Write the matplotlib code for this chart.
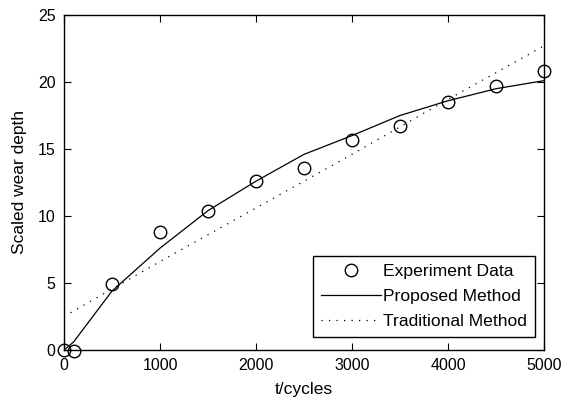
import matplotlib
matplotlib.use("Agg")
import matplotlib.pyplot as plt

# experiment data
t_exp = [0, 100, 500, 1000, 1500, 2000, 2500, 3000, 3500, 4000, 4500, 5000]
wear_exp = [0.0, -0.1, 4.9, 8.8, 10.4, 12.6, 13.6, 15.7, 16.7, 18.5, 19.7, 20.8]

# proposed method curve
t_prop = [0, 100, 500, 1000, 1500, 2000, 2500, 3000, 3500, 4000, 4500, 5000]
wear_prop = [0.0, 0.6, 4.4, 7.6, 10.4, 12.6, 14.6, 16.0, 17.5, 18.6, 19.5, 20.1]

# traditional method curve
t_trad = [0, 1000, 2000, 3000, 4000, 5000]
wear_trad = [2.5, 6.6, 10.6, 14.6, 18.7, 22.7]

xticks = [0, 1000, 2000, 3000, 4000, 5000]
yticks = [0, 5, 10, 15, 20, 25]

plt.rcParams['font.family'] = ['Liberation Sans', 'DejaVu Sans']

fig = plt.figure(figsize=(5.61, 4.0), dpi=100)
ax = fig.add_axes([64/561, 50/400, 480/561, 335/400])

ax.plot(t_exp, wear_exp, 'o', mfc='none', mec='black', ms=9, mew=1.0,
        label='Experiment Data', clip_on=False, zorder=3)
ax.plot(t_prop, wear_prop, '-', color='black', lw=0.9, label='Proposed Method')
ax.plot(t_trad, wear_trad, color='black', lw=0.9, linestyle=(0, (1, 5)),
        label='Traditional Method')

ax.set_xlim(0, 5000)
ax.set_ylim(0, 25)
ax.set_xticks(xticks)
ax.set_yticks(yticks)
ax.tick_params(direction='in', length=5, width=0.8, top=True, right=True,
               labelsize=11.5, pad=6)
for s in ax.spines.values():
    s.set_linewidth(1.0)

ax.set_xlabel('t/cycles', fontsize=12.5, labelpad=6)
ax.set_ylabel('Scaled wear depth', fontsize=12.5, labelpad=8)

leg = ax.legend(loc='lower right', bbox_to_anchor=(0.981, 0.039),
                fontsize=12.6, frameon=True, fancybox=False, edgecolor='black',
                framealpha=1, handlelength=3.4, handletextpad=0.15,
                labelspacing=0.55, borderpad=0.45, borderaxespad=0)
leg.get_frame().set_linewidth(1.0)

fig.savefig('out.png', dpi=100)
